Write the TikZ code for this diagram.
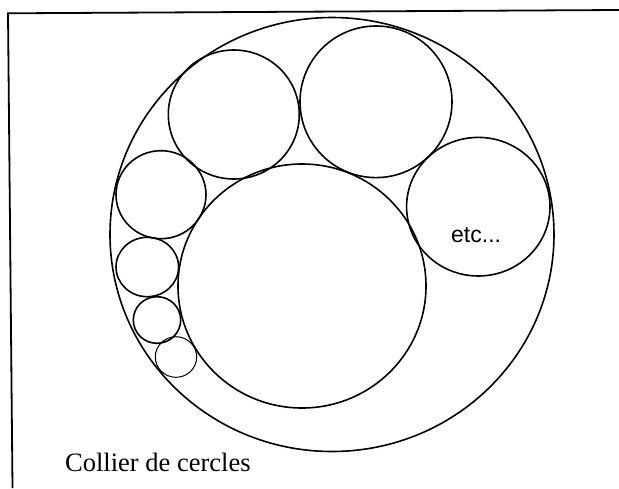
\documentclass[tikz,border=0pt]{standalone}
\usepackage{fontspec}
\setmainfont{Liberation Serif}
\newfontfamily\arialfont{Liberation Sans}
\begin{document}
\begin{tikzpicture}[x=1pt,y=-1pt,
  ring/.style={line width=1.6pt},
  thinring/.style={line width=1.0pt},
  frameline/.style={line width=1.8pt}]
\useasboundingbox (0,0) rectangle (619,488);
% frame (top and left edges only)
\coordinate (ftr) at (619,10);
\coordinate (ftl) at (8,13.3);
\coordinate (fbl) at (12.5,488);
\draw[frameline] (ftr) -- (ftl) -- (fbl);
% outer circle
\draw[ring] (332,234.5) ellipse [x radius=222, y radius=217];
% central big circle
\draw[ring] (302,286) ellipse [x radius=124, y radius=122];
% necklace
\draw[ring] (233.8,114.5) ellipse [x radius=65.5, y radius=64.5];
\draw[ring] (376,101.8) ellipse [x radius=76, y radius=75.8];
\draw[ring] (478.3,206.7) ellipse [x radius=71.7, y radius=69.3];
\draw[ring] (161,194.7) ellipse [x radius=45, y radius=44];
\draw[ring] (147.3,267) ellipse [x radius=31.3, y radius=29.7];
\draw[ring] (157,320) ellipse [x radius=23.7, y radius=23.3];
\draw[thinring] (176,357) ellipse [x radius=20.7, y radius=20.3];
% texts
\node[anchor=base west, inner sep=0pt, font=\arialfont\fontsize{23}{28}\selectfont] (etc) at (451,242.3) {etc...};
\node[anchor=base west, inner sep=0pt, font=\fontsize{26.5}{32}\selectfont] (title) at (65,471.7) {Collier de cercles};
\end{tikzpicture}
\end{document}
